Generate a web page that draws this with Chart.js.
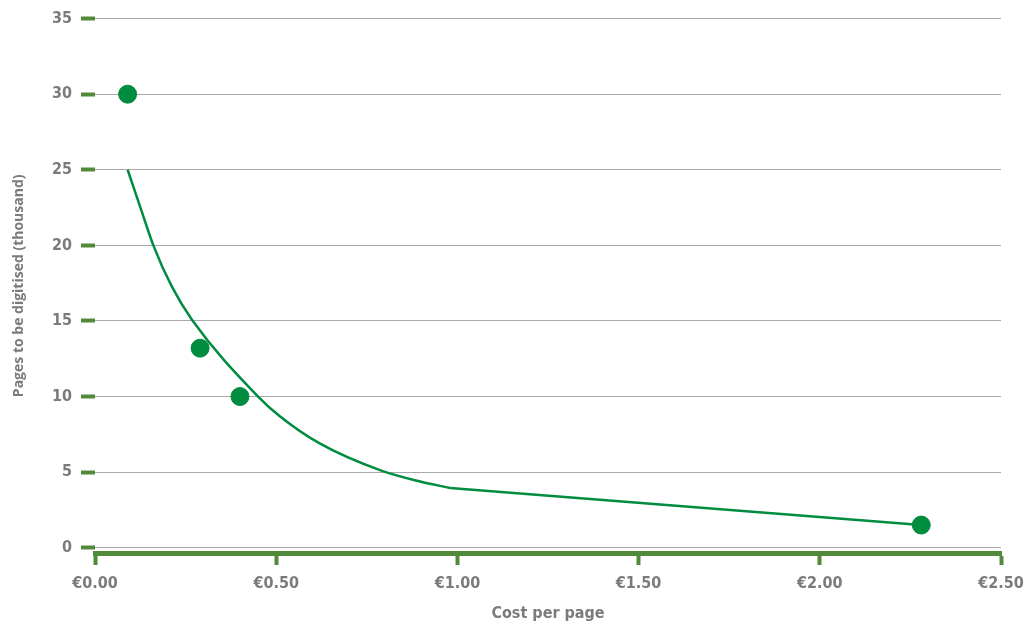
<!DOCTYPE html>
<html>
<head>
<meta charset="utf-8">
<script src="https://cdn.jsdelivr.net/npm/chart.js@4/dist/chart.umd.min.js"></script>
<style>
  html, body { margin: 0; padding: 0; background: #fff; }
  #wrap { width: 1029px; height: 624px; position: relative; }
</style>
</head>
<body>
<div id="wrap"><canvas id="chartCoste"></canvas></div>
<script>
// Puntos observados (coste por pagina, miles de paginas)
const costePuntos = [0.09, 0.29, 0.40, 2.28];
const paginasPuntos = [30, 13.2, 10, 1.5];

// Curva de tendencia (tramo curvo)
const costeCurva = [0.09, 0.124, 0.161, 0.2115, 0.267, 0.45, 0.51, 0.62, 0.79, 0.897, 0.98];
const paginasCurva = [25, 22.6, 20.0, 17.3, 15.1, 10.0, 8.7, 6.9, 5.1, 4.38, 3.95];

// Tramo recto final
const costeRecta = [0.98, 2.28];
const paginasRecta = [3.95, 1.5];

const ticksX = [0, 0.5, 1.0, 1.5, 2.0, 2.5];
const ticksY = [0, 5, 10, 15, 20, 25, 30, 35];

const verde = '#008c3f';
const verdeEje = '#528a3b';
const gris = '#7b7b7b';
const fuenteTicks = "'Liberation Sans Narrow', 'DejaVu Sans Condensed', Roboto, sans-serif";

document.addEventListener("DOMContentLoaded", function () {
  ChartCoste();
});

function armarPuntos(xs, ys) {
  const salida = new Array();
  for (let i = 0; i < xs.length; i++) {
    salida.push({ x: xs[i], y: ys[i] });
  }
  return salida;
}

function ChartCoste() {
  const ctx = document.getElementById('chartCoste');

  const data = {
    datasets: [{
      label: 'Puntos',
      data: armarPuntos(costePuntos, paginasPuntos),
      backgroundColor: verde,
      borderColor: verde,
      pointRadius: 9,
      pointHoverRadius: 9,
      showLine: false,
    },
    {
      label: 'Curva',
      data: armarPuntos(costeCurva, paginasCurva),
      borderColor: verde,
      borderWidth: 2.5,
      pointRadius: 0,
      showLine: true,
      fill: false,
      cubicInterpolationMode: 'monotone',
    },
    {
      label: 'Recta',
      data: armarPuntos(costeRecta, paginasRecta),
      borderColor: verde,
      borderWidth: 2.5,
      pointRadius: 0,
      showLine: true,
      fill: false,
      tension: 0,
    }]
  };

  const config = {
    type: 'scatter',
    data: data,
    options: {
      responsive: true,
      maintainAspectRatio: false,
      animation: false,
      layout: {
        padding: { left: 10, right: 28, top: 12, bottom: 0 }
      },
      plugins: {
        legend: { display: false },
        tooltip: { enabled: false }
      },
      scales: {
        x: {
          type: 'linear',
          min: 0,
          max: 2.5,
          afterBuildTicks: function (scale) {
            scale.ticks = ticksX.map(v => ({ value: v }));
          },
          afterFit: function (scale) {
            scale.height = 71;
            // la etiqueta final puede salir del area
            scale.paddingRight = 0;
          },
          border: { display: true, color: verdeEje, width: 5 },
          grid: {
            drawOnChartArea: false,
            color: verdeEje,
            tickColor: verdeEje,
            tickWidth: 4,
            tickLength: 12,
          },
          ticks: {
            padding: 9,
            color: gris,
            font: { family: fuenteTicks, size: 16, weight: 'bold' },
            callback: function (value) {
              return '€' + Number(value).toFixed(2);
            }
          },
          title: {
            display: true,
            text: 'Cost per page',
            color: gris,
            padding: { top: 4, bottom: 1 },
            font: { family: fuenteTicks, size: 16, weight: 'bold' }
          }
        },
        y: {
          type: 'linear',
          min: -0.35,
          max: 35,
          afterBuildTicks: function (scale) {
            scale.ticks = ticksY.map(v => ({ value: v }));
          },
          afterFit: function (scale) {
            scale.width = 85;
          },
          border: { display: false },
          grid: {
            color: '#a9a9a9',
            lineWidth: 1,
            tickColor: verdeEje,
            tickWidth: 4,
            tickLength: 14,
          },
          ticks: {
            padding: 9,
            color: gris,
            font: { family: fuenteTicks, size: 16, weight: 'bold' }
          },
          title: {
            display: true,
            text: 'Pages to be digitised (thousand)',
            color: gris,
            padding: { top: 1, bottom: 0 },
            font: { family: "'Open Sans', sans-serif", size: 14, weight: 'bold' }
          }
        }
      }
    }
  };

  new Chart(ctx, config);
}
</script>
</body>
</html>
